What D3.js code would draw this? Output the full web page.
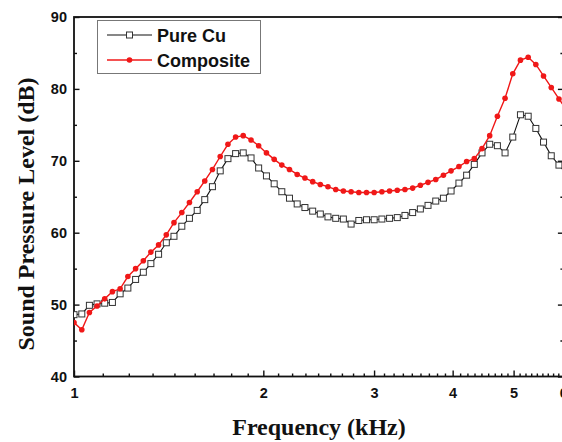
<!DOCTYPE html>
<html>
<head>
<meta charset="utf-8">
<script src="https://cdn.jsdelivr.net/npm/d3@7"></script>
<style>
  body { margin: 0; background: #fff; }
  svg { display: block; }
  .tick text { font-family: "Liberation Sans", Arial, sans-serif; font-weight: bold; font-size: 14.5px; fill: #111; }
  .title { font-family: "Liberation Serif", "Times New Roman", serif; font-weight: bold; font-size: 24px; fill: #111; }
  .legend text { font-family: "Liberation Sans", Arial, sans-serif; font-weight: bold; font-size: 18px; fill: #111; }
</style>
</head>
<body>
<svg width="562" height="442"></svg>
<script>
// frequencies in kHz (log spaced)
const freqs = [
  1.000, 1.029, 1.058, 1.088, 1.119, 1.151, 1.184, 1.218, 1.253, 1.289,
  1.325, 1.363, 1.402, 1.442, 1.484, 1.526, 1.570, 1.614, 1.660, 1.708,
  1.757, 1.807, 1.858, 1.912, 1.966, 2.023, 2.081, 2.140, 2.201, 2.264,
  2.329, 2.396, 2.464, 2.534, 2.607, 2.681, 2.758, 2.837, 2.918, 3.001,
  3.087, 3.175, 3.266, 3.359, 3.455, 3.554, 3.655, 3.760, 3.867, 3.977,
  4.093, 4.210, 4.330, 4.454, 4.581, 4.712, 4.846, 4.985, 5.127, 5.274,
  5.424, 5.579, 5.739, 5.903, 6.071
];

const pureCu = [
  48.6, 48.7, 49.9, 50.1, 50.2, 50.3, 51.5, 52.3, 53.5, 54.5,
  55.7, 57.0, 58.6, 59.5, 60.9, 62.0, 63.1, 64.6, 66.4, 68.6,
  70.3, 71.0, 71.1, 70.4, 69.0, 67.9, 66.8, 65.7, 64.8, 64.0,
  63.5, 63.0, 62.6, 62.2, 62.0, 61.9, 61.2, 61.7, 61.8, 61.8,
  61.9, 62.0, 62.1, 62.4, 62.8, 63.3, 63.8, 64.4, 64.8, 65.8,
  66.9, 68.0, 69.5, 71.1, 72.3, 72.1, 71.1, 73.3, 76.4, 76.2,
  74.5, 72.6, 70.7, 69.4, 68.2
];

const composite = [
  47.5, 46.5, 48.9, 49.8, 50.8, 51.8, 52.2, 53.9, 55.0, 56.1,
  57.3, 58.3, 59.7, 61.4, 62.8, 64.2, 65.7, 67.2, 68.8, 70.6,
  72.3, 73.3, 73.5, 72.9, 72.1, 71.1, 70.2, 69.4, 68.8, 68.1,
  67.6, 67.1, 66.7, 66.4, 66.0, 65.8, 65.7, 65.6, 65.6, 65.6,
  65.7, 65.8, 65.9, 66.0, 66.2, 66.6, 67.0, 67.4, 68.0, 68.6,
  69.2, 69.9, 70.3, 71.7, 73.5, 76.2, 78.7, 82.1, 84.0, 84.4,
  83.4, 81.8, 80.2, 78.6, 77.1
];

const xTicks = [1, 2, 3, 4, 5, 6];
const yTicks = [40, 50, 60, 70, 80, 90];
const yMinor = [45, 55, 65, 75, 85];
const seriesNames = ["Pure Cu", "Composite"];

const svg = d3.select("svg");
const plotLeft = 74, plotRight = 563.4, plotTop = 17, plotBottom = 376.5;

const x = d3.scaleLog().domain([1, 6]).range([plotLeft, plotRight]);
const y = d3.scaleLinear().domain([40, 90]).range([plotBottom, plotTop]);

// 8 minor ticks between each pair of majors, as in the original plot
const xMinor = d3.range(1, 6).flatMap(i => d3.range(1, 9).map(k => i + k / 9));

svg.append("defs").append("clipPath").attr("id", "plot")
  .append("rect").attr("x", plotLeft).attr("y", plotTop)
  .attr("width", plotRight - plotLeft).attr("height", plotBottom - plotTop);

// axes
const tidy = g => { g.select(".domain").remove(); g.selectAll(".tick line").attr("stroke", "#111").attr("stroke-width", 1.4); };

svg.append("g").attr("transform", `translate(0,${plotBottom})`)
  .call(d3.axisBottom(x).tickValues(xMinor).tickSize(-3).tickFormat(""))
  .call(tidy);
svg.append("g").attr("transform", `translate(0,${plotBottom})`)
  .call(d3.axisBottom(x).tickValues(xTicks).tickSize(-6).tickPadding(11.5).tickFormat(d3.format("d")))
  .call(tidy);

svg.append("g").attr("transform", `translate(${plotLeft},0)`)
  .call(d3.axisLeft(y).tickValues(yMinor).tickSize(-3).tickFormat(""))
  .call(tidy);
svg.append("g").attr("transform", `translate(${plotLeft},0)`)
  .call(d3.axisLeft(y).tickValues(yTicks).tickSize(-5.5).tickPadding(7))
  .call(tidy);

svg.append("g").attr("transform", `translate(${plotRight},0)`)
  .call(d3.axisRight(y).tickValues(yMinor).tickSize(-3).tickFormat(""))
  .call(tidy);
svg.append("g").attr("transform", `translate(${plotRight},0)`)
  .call(d3.axisRight(y).tickValues(yTicks).tickSize(-5.5).tickFormat(""))
  .call(tidy);

svg.append("rect")
  .attr("x", plotLeft).attr("y", plotTop)
  .attr("width", plotRight - plotLeft).attr("height", plotBottom - plotTop)
  .attr("fill", "none").attr("stroke", "#111").attr("stroke-width", 1.8);

// series
const plot = svg.append("g").attr("clip-path", "url(#plot)");

const line = vals => d3.line()
  .x((d, i) => x(freqs[i]))
  .y(d => y(d))(vals);

plot.append("path").attr("d", line(pureCu))
  .attr("fill", "none").attr("stroke", "#111").attr("stroke-width", 1.1);
plot.selectAll("rect.cu")
  .data(pureCu)
  .enter().append("rect")
  .attr("class", "cu")
  .attr("x", (d, i) => x(freqs[i]) - 3)
  .attr("y", d => y(d) - 3)
  .attr("width", 6).attr("height", 6)
  .attr("fill", "#fff").attr("stroke", "#333").attr("stroke-width", 1);

plot.append("path").attr("d", line(composite))
  .attr("fill", "none").attr("stroke", "#f01818").attr("stroke-width", 1.4);
plot.selectAll("circle.comp")
  .data(composite)
  .enter().append("circle")
  .attr("class", "comp")
  .attr("cx", (d, i) => x(freqs[i]))
  .attr("cy", d => y(d))
  .attr("r", 2.8)
  .attr("fill", "#f01818");

// titles
svg.append("text").attr("class", "title")
  .attr("x", 319).attr("y", 435)
  .attr("text-anchor", "middle")
  .text("Frequency (kHz)");

svg.append("text").attr("class", "title")
  .attr("transform", "translate(34,214) rotate(-90)")
  .attr("text-anchor", "middle")
  .text("Sound Pressure Level (dB)");

// legend
const legend = svg.append("g").attr("class", "legend");
legend.append("rect")
  .attr("x", 97.5).attr("y", 20.5).attr("width", 163).attr("height", 53)
  .attr("fill", "#fff").attr("stroke", "#777").attr("stroke-width", 1);

const rows = legend.selectAll("g.row")
  .data(seriesNames)
  .enter().append("g")
  .attr("class", "row")
  .attr("transform", (d, i) => `translate(0,${35 + i * 25})`);

rows.append("line")
  .attr("x1", 107).attr("x2", 152)
  .attr("stroke", (d, i) => i ? "#f01818" : "#111")
  .attr("stroke-width", (d, i) => i ? 1.4 : 1.1);

rows.filter((d, i) => i === 0).append("rect")
  .attr("x", 126.5).attr("y", -3).attr("width", 6).attr("height", 6)
  .attr("fill", "#fff").attr("stroke", "#333");
rows.filter((d, i) => i === 1).append("circle")
  .attr("cx", 129.5).attr("r", 2.8).attr("fill", "#f01818");

rows.append("text")
  .attr("x", 157).attr("y", 7)
  .text(d => d);
</script>
</body>
</html>
